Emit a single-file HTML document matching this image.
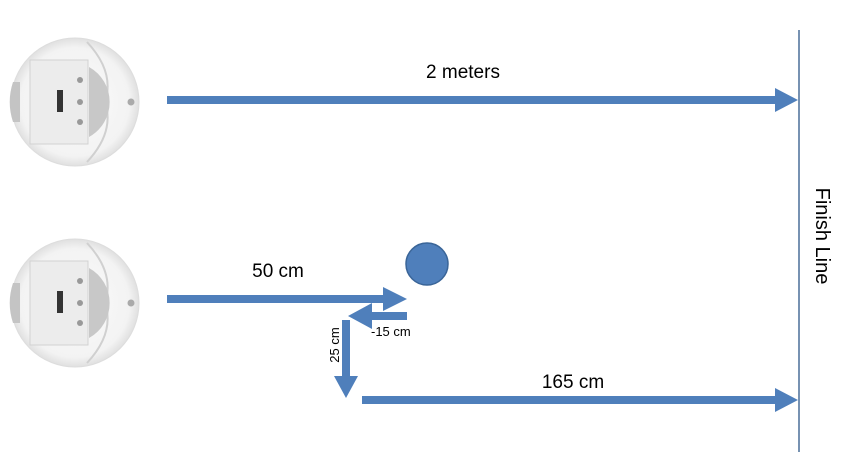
<!DOCTYPE html>
<html><head><meta charset="utf-8"><style>
html,body{margin:0;padding:0;background:#fff;}
svg{display:block;font-family:"Liberation Sans",Calibri,sans-serif;}
</style></head><body>
<svg width="849" height="470" viewBox="0 0 849 470">
<defs>
<radialGradient id="rg" cx="0.5" cy="0.5" r="0.5">
<stop offset="0" stop-color="#fbfbfb"/><stop offset="0.85" stop-color="#f3f3f3"/><stop offset="1" stop-color="#e0e0e0"/>
</radialGradient>
<g id="robot">
<circle cx="0" cy="0" r="64" fill="url(#rg)" stroke="#dddddd"/>
<path d="M-62,-20 A64,64 0 0 0 -62,20 L-55,20 L-55,-20Z" fill="#c4c4c4"/>
<rect x="-45" y="-42" width="58" height="84" fill="#ececec" stroke="#d2d2d2"/>
<rect x="-18" y="-12" width="6" height="22" fill="#333"/>
<path d="M12,-60 Q40,-30 30,0 Q40,30 12,60" fill="none" stroke="#d0d0d0" stroke-width="2"/>
<path d="M14,-35 A40,40 0 0 1 14,35 L14,-35Z" fill="#c8c8c8"/>
<circle cx="5" cy="-22" r="3" fill="#999"/><circle cx="5" cy="0" r="3" fill="#999"/><circle cx="5" cy="20" r="3" fill="#999"/>
<circle cx="56" cy="0" r="3.5" fill="#aaa"/>
</g>
</defs>
<use href="#robot" x="75" y="102"/>
<use href="#robot" x="75" y="303"/>

<line x1="799" y1="30" x2="799" y2="452" stroke="#4a6f99" stroke-width="1.5"/>
<text transform="translate(816,236) rotate(90)" text-anchor="middle" font-size="20" fill="#000">Finish Line</text>

<g fill="#4f7fbb">
<path d="M167,96 H775 V88 L798,100 L775,112 V104 H167Z"/>
<path d="M167,295 H383 V287 L407,299 L383,311 V303 H167Z"/>
<path d="M407,312 H372 V303 L348,316 L372,329 V320 H407Z"/>
<path d="M342,320 H350 V376 H358 L346,398 L334,376 H342Z"/>
<path d="M362,396 H775 V388 L798,400 L775,412 V404 H362Z"/>
</g>
<circle cx="427" cy="264" r="21" fill="#4f7fbb" stroke="#3a6598" stroke-width="1.5"/>

<text x="463" y="78" text-anchor="middle" font-size="19">2 meters</text>
<text x="278" y="277" text-anchor="middle" font-size="19">50 cm</text>
<text x="573" y="388" text-anchor="middle" font-size="19">165 cm</text>
<text x="371" y="336" font-size="13">-15 cm</text>
<text transform="translate(339,345) rotate(-90)" text-anchor="middle" font-size="13">25 cm</text>
</svg>
</body></html>
